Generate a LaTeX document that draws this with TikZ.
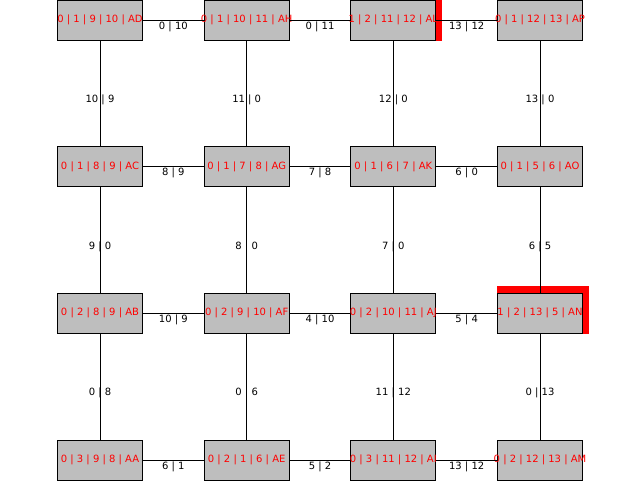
\documentclass[tikz,border=0pt]{standalone}
\usepackage{fontspec}
\setmainfont{DejaVu Sans}
\usetikzlibrary{backgrounds,calc}
\definecolor{cellgray}{RGB}{190,190,190}
\definecolor{cellred}{RGB}{255,0,0}
\newcommand{\celltext}[1]{\makebox[0pt]{#1}}

\begin{document}
\begin{tikzpicture}[x=1pt, y=-1pt,
  cell/.style={draw=black, fill=cellgray, line width=1pt, minimum width=85pt,
    minimum height=40pt, inner sep=0pt, text=cellred},
  link/.style={draw=black, line width=1pt},
  linklabel/.style={inner sep=0pt, yshift=-6.5pt, text=black}]
  \useasboundingbox (0,0) rectangle (640,480);
  % grid of cells
  \node[cell] (AD) at (100,20)       {\celltext{0 | 1 | 9 | 10 | AD}};
  \node[cell] (AH) at (246.67,20)    {\celltext{0 | 1 | 10 | 11 | AH}};
  \node[cell] (AL) at (393.33,20)    {\celltext{1 | 2 | 11 | 12 | AL}};
  \node[cell] (AP) at (540,20)       {\celltext{0 | 1 | 12 | 13 | AP}};
  \node[cell] (AC) at (100,166.67)    {\celltext{0 | 1 | 8 | 9 | AC}};
  \node[cell] (AG) at (246.67,166.67) {\celltext{0 | 1 | 7 | 8 | AG}};
  \node[cell] (AK) at (393.33,166.67) {\celltext{0 | 1 | 6 | 7 | AK}};
  \node[cell] (AO) at (540,166.67)    {\celltext{0 | 1 | 5 | 6 | AO}};
  \node[cell] (AB) at (100,313.33)    {\celltext{0 | 2 | 8 | 9 | AB}};
  \node[cell] (AF) at (246.67,313.33) {\celltext{0 | 2 | 9 | 10 | AF}};
  \node[cell] (AJ) at (393.33,313.33) {\celltext{0 | 2 | 10 | 11 | AJ}};
  \node[cell] (AN) at (540,313.33)    {\celltext{1 | 2 | 13 | 5 | AN}};
  \node[cell] (AA) at (100,460)       {\celltext{0 | 3 | 9 | 8 | AA}};
  \node[cell] (AE) at (246.67,460)    {\celltext{0 | 2 | 1 | 6 | AE}};
  \node[cell] (AI) at (393.33,460)    {\celltext{0 | 3 | 11 | 12 | AI}};
  \node[cell] (AM) at (540,460)       {\celltext{0 | 2 | 12 | 13 | AM}};
  % highlighted cells
  \begin{scope}[on background layer]
    \fill[cellred] (AL.south west) rectangle ($(AL.north east)+(5.7,-6.7)$);
    \fill[cellred] (AN.south west) rectangle ($(AN.north east)+(5.7,-6.7)$);
  \end{scope}
  % horizontal links
  \draw[link] (AD) -- node[linklabel] {0 | 10} (AH);
  \draw[link] (AH) -- node[linklabel] {0 | 11} (AL);
  \draw[link] (AL) -- node[linklabel] {13 | 12} (AP);
  \draw[link] (AC) -- node[linklabel] {8 | 9} (AG);
  \draw[link] (AG) -- node[linklabel] {7 | 8} (AK);
  \draw[link] (AK) -- node[linklabel] {6 | 0} (AO);
  \draw[link] (AB) -- node[linklabel] {10 | 9} (AF);
  \draw[link] (AF) -- node[linklabel] {4 | 10} (AJ);
  \draw[link] (AJ) -- node[linklabel] {5 | 4} (AN);
  \draw[link] (AA) -- node[linklabel] {6 | 1} (AE);
  \draw[link] (AE) -- node[linklabel] {5 | 2} (AI);
  \draw[link] (AI) -- node[linklabel] {13 | 12} (AM);
  % vertical links
  \draw[link] (AD) -- node[linklabel] {10 | 9} (AC);
  \draw[link] (AC) -- node[linklabel] {9 | 0} (AB);
  \draw[link] (AB) -- node[linklabel] {0 | 8} (AA);
  \draw[link] (AH) -- node[linklabel] {11 | 0} (AG);
  \draw[link] (AG) -- node[linklabel] {8 | 0} (AF);
  \draw[link] (AF) -- node[linklabel] {0 | 6} (AE);
  \draw[link] (AL) -- node[linklabel] {12 | 0} (AK);
  \draw[link] (AK) -- node[linklabel] {7 | 0} (AJ);
  \draw[link] (AJ) -- node[linklabel] {11 | 12} (AI);
  \draw[link] (AP) -- node[linklabel] {13 | 0} (AO);
  \draw[link] (AO) -- node[linklabel] {6 | 5} (AN);
  \draw[link] (AN) -- node[linklabel] {0 | 13} (AM);
\end{tikzpicture}
\end{document}
